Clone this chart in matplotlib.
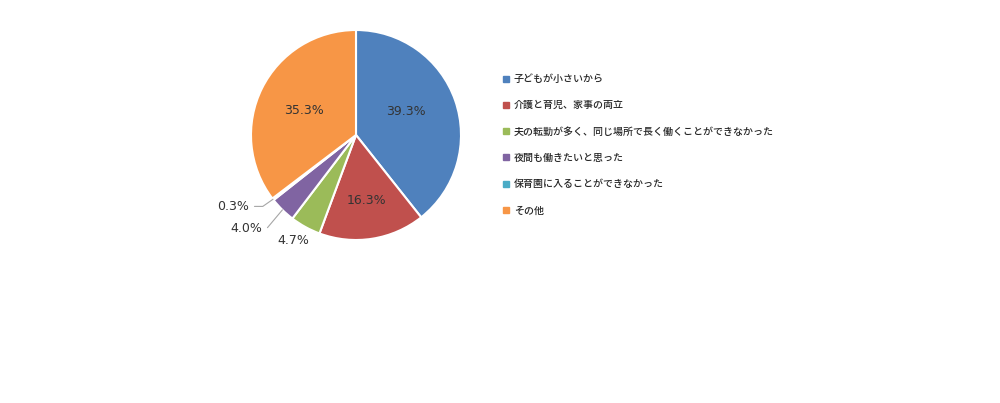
import numpy as np
import matplotlib.pyplot as plt
from matplotlib.lines import Line2D

plt.rcParams['font.family'] = ['Noto Sans CJK JP', 'DejaVu Sans']

# data
labels = ["子どもが小さいから", "介護と育児、家事の両立",
          "夫の転勤が多く、同じ場所で長く働くことができなかった",
          "夜間も働きたいと思った", "保育園に入ることができなかった", "その他"]
values = [39.3, 16.3, 4.7, 4.0, 0.3, 35.3]
colors = ["#4F81BD", "#C0504D", "#9BBB59", "#8064A2", "#4BACC6", "#F79646"]

fig = plt.figure(figsize=(10, 4.03), dpi=100)
ax = fig.add_axes([0, 0, 1, 1])

wedges, _ = ax.pie(values, colors=colors, startangle=90, counterclock=False,
                   radius=1, wedgeprops=dict(edgecolor="white", linewidth=1.5))

# pixel scale: 105 px per unit, pie centre at (356, 135) from top-left
ax.set_aspect('auto')
ax.set_xlim(-356 / 105, (1000 - 356) / 105)
ax.set_ylim(-(403 - 135) / 105, 135 / 105)
ax.axis('off')

txt_col = "#333333"
# big slices: labels inside
inside_r = {0: (0.53, 6), 1: (0.63, 0), 5: (0.55, 1)}
for i, (r, dang) in inside_r.items():
    w = wedges[i]
    ang = np.deg2rad((w.theta1 + w.theta2) / 2 + dang)
    ax.text(r * np.cos(ang), r * np.sin(ang), f"{values[i]:.1f}%", ha='center',
            va='center', fontsize=9, color=txt_col, family='DejaVu Sans')

# small slices: labels outside
outside = {2: (-0.60, -1.00, None), 3: (-0.895, -0.89, 50), 4: (-1.02, -0.68, 35)}
for i, (tx, ty, angB) in outside.items():
    w = wedges[i]
    ang = np.deg2rad((w.theta1 + w.theta2) / 2)
    if angB is None:
        ax.text(tx, ty, f"{values[i]:.1f}%", ha='center', va='center',
                fontsize=9, color=txt_col, family='DejaVu Sans')
    else:
        ax.annotate(f"{values[i]:.1f}%", xy=(np.cos(ang), np.sin(ang)),
                    xytext=(tx, ty), ha='right', va='center', fontsize=9,
                    color=txt_col, family='DejaVu Sans',
                    arrowprops=dict(arrowstyle='-', color='#A6A6A6', lw=0.8,
                                    shrinkA=2, shrinkB=0,
                                    connectionstyle=f'angle,angleA=0,angleB={angB},rad=0'))

handles = [Line2D([], [], marker='s', linestyle='none', markersize=4,
                  markerfacecolor=c, markeredgecolor=c) for c in colors]
fig.legend(handles, labels, loc='upper left', bbox_to_anchor=(0.499, 1 - 70 / 403),
           frameon=False, prop=dict(size=7.2, weight='medium'), labelspacing=1.63,
           handlelength=0.6, handletextpad=0.5, borderaxespad=0, labelcolor='#262626')

fig.savefig("out.png", dpi=100)
